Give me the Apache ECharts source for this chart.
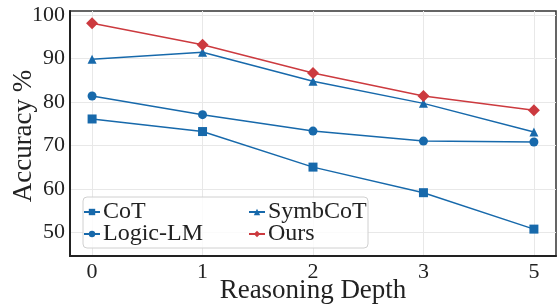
<!DOCTYPE html>
<html><head><meta charset="utf-8">
<script src="https://cdn.jsdelivr.net/npm/echarts@6/dist/echarts.min.js"></script>
<style>html,body{margin:0;padding:0;background:#fff}#c{width:559px;height:307px}</style>
</head><body><div id="c"></div>
<script>
const depthLabels = ['0','1','2','3','5'];
const cot = [76.1, 73.2, 65.0, 59.1, 50.7];
const logicLM = [81.4, 77.1, 73.3, 71.0, 70.8];
const symbCoT = [89.9, 91.5, 84.8, 79.7, 73.1];
const ours = [98.2, 93.2, 86.7, 81.4, 78.1];
const yTicks = [50, 60, 70, 80, 90, 100];
const xTitle = 'Reasoning Depth';
const yTitle = 'Accuracy %';

const blue = '#1769ab';
const red = '#cc3a3f';
const font = 'Liberation Serif';
function pts(arr){ return arr.map((v,i)=>[i,v]); }
function mk(name, data, color, symbol, size){
  return {name, type:'line', data:pts(data), symbol, symbolSize:size,
    lineStyle:{color, width:1.5}, itemStyle:{color}, z: name==='Ours'?5:3};
}
const chart = echarts.init(document.getElementById('c'), null, {renderer:'canvas'});
chart.setOption({
  animation:false,
  grid:{left:70, right:3, top:11, bottom:51, show:true, borderColor:'#333', borderWidth:1.5,
    containLabel:false, outerBoundsMode:'none'},
  xAxis:{type:'value', min:-0.2, max:4.2,
    axisLine:{show:true, onZero:false, lineStyle:{color:'#222', width:2}},
    axisTick:{show:false, customValues:[0,1,2,3,4]},
    axisLabel:{customValues:[0,1,2,3,4], formatter:v=>depthLabels[Math.round(v)], fontFamily:font, fontSize:22, color:'#222', margin:5},
    splitLine:{show:true, lineStyle:{color:'#e8e8e8', width:1}}
  },
  yAxis:{type:'value', min:44.5, max:101,
    axisLine:{show:true, onZero:false, lineStyle:{color:'#222', width:2}},
    axisTick:{show:false, customValues:yTicks},
    axisLabel:{customValues:yTicks, fontFamily:font, fontSize:22, color:'#222', margin:5},
    splitLine:{show:true, lineStyle:{color:'#e8e8e8', width:1}}
  },
  graphic:[
    {type:'rect', shape:{x:83, y:197, width:285, height:51, r:4},
     style:{fill:'rgba(255,255,255,0.8)', stroke:'#d0d0d0', lineWidth:1}, z:50},
    {type:'text', x:313, y:291, style:{text:xTitle, font:'27px "Liberation Serif"', fill:'#222', align:'center', verticalAlign:'middle'}},
    {type:'text', x:24, y:136, rotation:Math.PI/2, style:{text:yTitle, font:'27px "Liberation Serif"', fill:'#222', align:'center', verticalAlign:'middle'}}
  ],
  legend:[
    {data:['CoT','Logic-LM'], orient:'vertical', left:78, top:195, itemGap:-2, itemWidth:16, itemHeight:8,
     textStyle:{fontFamily:font, fontSize:24, color:'#222', padding:[0,0,0,-2]}, z:60},
    {data:['SymbCoT','Ours'], orient:'vertical', left:243, top:195, itemGap:-2, itemWidth:16, itemHeight:8,
     textStyle:{fontFamily:font, fontSize:24, color:'#222', padding:[0,0,0,-2]}, z:60}
  ],
  series:[
    mk('CoT', cot, blue, 'rect', 9),
    mk('Logic-LM', logicLM, blue, 'circle', 9),
    mk('SymbCoT', symbCoT, blue, 'triangle', 9),
    mk('Ours', ours, red, 'diamond', 12)
  ]
});
</script></body></html>
